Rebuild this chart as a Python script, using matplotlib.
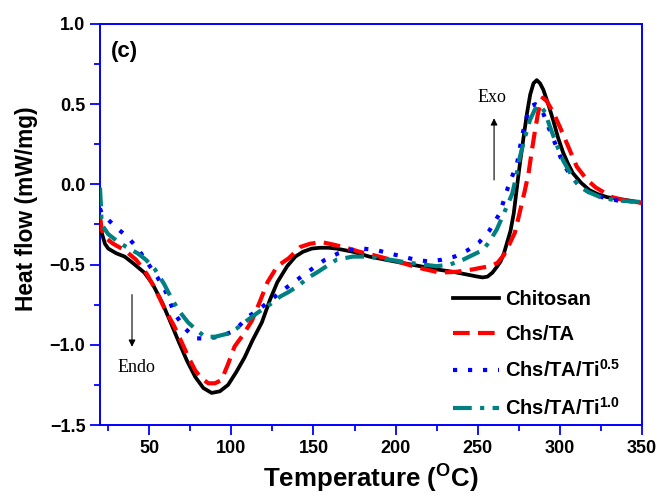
import numpy as np
import matplotlib
matplotlib.use('Agg')
import matplotlib.pyplot as plt
from matplotlib.ticker import MultipleLocator

plt.rcParams['font.family'] = ['Liberation Sans', 'DejaVu Sans']
plt.rcParams['font.weight'] = 'bold'
plt.rcParams['mathtext.fontset'] = 'custom'
plt.rcParams['mathtext.rm'] = 'Liberation Sans:bold'
plt.rcParams['mathtext.bf'] = 'Liberation Sans:bold'
plt.rcParams['mathtext.default'] = 'bf'

# Chitosan
t_chs = [20, 21, 23, 25, 30, 35, 40, 47, 52, 58, 63, 67.5, 73, 78, 83, 88, 93, 98, 103, 108,
         113, 118.6, 123.5, 128, 134, 139, 143.6, 149, 154, 159, 164, 174, 184, 194, 204.5,
         215, 225, 235, 245, 250, 253, 256, 259, 262, 264, 266, 268, 270, 272, 274.5, 276,
         277.5, 280, 282, 284, 286, 288, 290, 293, 296, 299, 302, 305, 308, 313, 318, 323,
         329, 335, 342, 350]
y_chs = [-0.22, -0.30, -0.37, -0.40, -0.43, -0.45, -0.49, -0.55, -0.62, -0.74, -0.86, -0.97,
         -1.10, -1.20, -1.27, -1.30, -1.29, -1.25, -1.17, -1.08, -0.97, -0.86, -0.72, -0.61,
         -0.51, -0.45, -0.42, -0.40, -0.395, -0.395, -0.40, -0.42, -0.45, -0.47, -0.49, -0.51,
         -0.53, -0.545, -0.565, -0.575, -0.58, -0.575, -0.55, -0.51, -0.48, -0.43, -0.36,
         -0.29, -0.18, 0.03, 0.15, 0.26, 0.44, 0.56, 0.63, 0.65, 0.63, 0.59, 0.50, 0.40, 0.29,
         0.20, 0.13, 0.07, 0.01, -0.035, -0.06, -0.08, -0.09, -0.10, -0.115]

# Chs/TA
t_ta = [20, 21, 23, 28, 35, 42, 48.6, 54, 59.6, 65, 70, 74, 78, 82, 86, 90, 94, 98, 102, 107,
        112.5, 117, 122, 128, 135, 142, 148, 155, 162, 170, 178, 190, 201, 214, 227, 237, 247,
        252, 257.5, 262, 266, 269, 272.7, 275.5, 278.8, 281, 283, 285, 286.7, 288, 289.7, 292,
        296, 300, 305, 310.4, 316.5, 322, 332, 340, 350]
y_ta = [-0.20, -0.28, -0.33, -0.37, -0.41, -0.47, -0.56, -0.66, -0.78, -0.88, -0.99, -1.08,
        -1.16, -1.21, -1.24, -1.24, -1.22, -1.12, -1.01, -0.94, -0.85, -0.74, -0.61, -0.51,
        -0.46, -0.39, -0.37, -0.36, -0.375, -0.395, -0.42, -0.45, -0.48, -0.52, -0.55, -0.545,
        -0.53, -0.52, -0.51, -0.49, -0.44, -0.38, -0.30, -0.18, -0.035, 0.07, 0.21, 0.34, 0.44,
        0.50, 0.54, 0.52, 0.45, 0.36, 0.24, 0.11, 0.03, -0.02, -0.08, -0.10, -0.115]

# Chs/TA/Ti 0.5
t_ti05 = [20, 21, 23, 30, 37, 43, 49, 55, 59.6, 65.7, 72, 78, 85, 93, 100, 105, 109.5, 118,
          126.5, 134, 142, 150, 157, 165, 172, 180, 188.6, 196, 204.5, 212, 220, 228, 236, 244,
          251, 257, 263.5, 268.4, 274, 277, 280.6, 283, 285, 287, 289.7, 293, 297, 302, 307,
          312, 318, 326, 335, 342, 350]
y_ti05 = [-0.15, -0.18, -0.20, -0.27, -0.33, -0.40, -0.49, -0.58, -0.66, -0.81, -0.90, -0.96,
          -0.96, -0.95, -0.92, -0.88, -0.83, -0.77, -0.70, -0.64, -0.58, -0.52, -0.47, -0.43,
          -0.41, -0.40, -0.41, -0.43, -0.45, -0.47, -0.48, -0.47, -0.45, -0.41, -0.36, -0.29,
          -0.18, -0.02, 0.13, 0.30, 0.45, 0.49, 0.50, 0.49, 0.45, 0.36, 0.26, 0.13, 0.05, -0.01,
          -0.05, -0.08, -0.10, -0.105, -0.11]

# Chs/TA/Ti 1.0
t_ti10 = [20, 20.5, 21, 25, 30, 36, 43, 48, 53.5, 59, 64, 69, 73.6, 79, 84, 90, 98, 103, 108,
          116, 124.7, 129.6, 135, 141, 147, 152, 158, 164, 174, 182, 190.5, 200, 209, 217, 225,
          233, 241, 247, 253, 257, 261.7, 266, 271, 273.5, 275.7, 279, 281.8, 285, 288, 291,
          294, 298, 302, 307, 312, 318, 326, 335, 342, 350]
y_ti10 = [-0.02, -0.12, -0.25, -0.31, -0.35, -0.39, -0.43, -0.47, -0.53, -0.62, -0.72, -0.80,
          -0.86, -0.91, -0.95, -0.95, -0.93, -0.90, -0.86, -0.80, -0.74, -0.70, -0.67, -0.63,
          -0.58, -0.55, -0.51, -0.47, -0.45, -0.45, -0.46, -0.475, -0.49, -0.50, -0.51, -0.50,
          -0.47, -0.44, -0.41, -0.36, -0.28, -0.18, -0.06, 0.05, 0.17, 0.30, 0.40, 0.47, 0.495,
          0.45, 0.36, 0.25, 0.15, 0.06, -0.015, -0.05, -0.085, -0.10, -0.105, -0.11]

fig = plt.figure(figsize=(6.6, 5), dpi=100)
ax = fig.add_axes([0.1515, 0.15, 0.821, 0.802])

ax.plot(t_chs, y_chs, color='black', lw=2.7, label='Chitosan', zorder=3)
ax.plot(t_ta, y_ta, color='#ff0000', lw=3, dashes=(4, 2), label='Chs/TA', zorder=4)
ax.plot(t_ti05, y_ti05, color='#0000ff', lw=3, dashes=(1, 2.6), label='Chs/TA/Ti$^{0.5}$', zorder=5)
ax.plot(t_ti10, y_ti10, color='#008080', lw=3, dashes=(4.5, 2, 1, 2), label='Chs/TA/Ti$^{1.0}$', zorder=5)

ax.set_xlim(20, 350)
ax.set_ylim(-1.5, 1.0)
ax.xaxis.set_major_locator(MultipleLocator(50))
ax.xaxis.set_minor_locator(MultipleLocator(25))
ax.yaxis.set_major_locator(MultipleLocator(0.5))
ax.yaxis.set_minor_locator(MultipleLocator(0.25))
ax.tick_params(which='major', direction='out', length=7, width=1.3, color='blue', labelsize=13)
ax.tick_params(which='minor', direction='out', length=4, width=1.3, color='blue')
for sp in ax.spines.values():
    sp.set_color('blue')
    sp.set_linewidth(1.4)
for lab in ax.get_xticklabels() + ax.get_yticklabels():
    lab.set_fontweight('bold')

ax.set_xlabel('Temperature ($^{O}$C)', fontsize=18.6, fontweight='bold')
ax.set_ylabel('Heat flow (mW/mg)', fontsize=16.4, fontweight='bold')
ax.xaxis.set_label_coords(0.5, -0.095)
ax.yaxis.set_label_coords(-0.115, 0.539)

ax.text(35, 0.83, '(c)', fontsize=16, fontweight='bold', ha='center', va='center')

ax.annotate('', xy=(260, 0.43), xytext=(260, 0.01),
            arrowprops=dict(arrowstyle='-|>', color='black', lw=0.8, mutation_scale=10))
ax.text(259, 0.54, 'Exo', family='Liberation Serif', fontweight='normal', fontsize=13,
        ha='center', va='center')
ax.annotate('', xy=(39.5, -1.03), xytext=(39.5, -0.67),
            arrowprops=dict(arrowstyle='-|>', color='black', lw=0.8, mutation_scale=10))
ax.text(42, -1.14, 'Endo', family='Liberation Serif', fontweight='normal', fontsize=13,
        ha='center', va='center')

ax.legend(loc='upper left', bbox_to_anchor=(0.651, 0.337), frameon=False, fontsize=14.5,
          handlelength=2.3, handletextpad=0.3, labelspacing=0.78, borderaxespad=0, borderpad=0)

fig.savefig('out.png', dpi=100)
